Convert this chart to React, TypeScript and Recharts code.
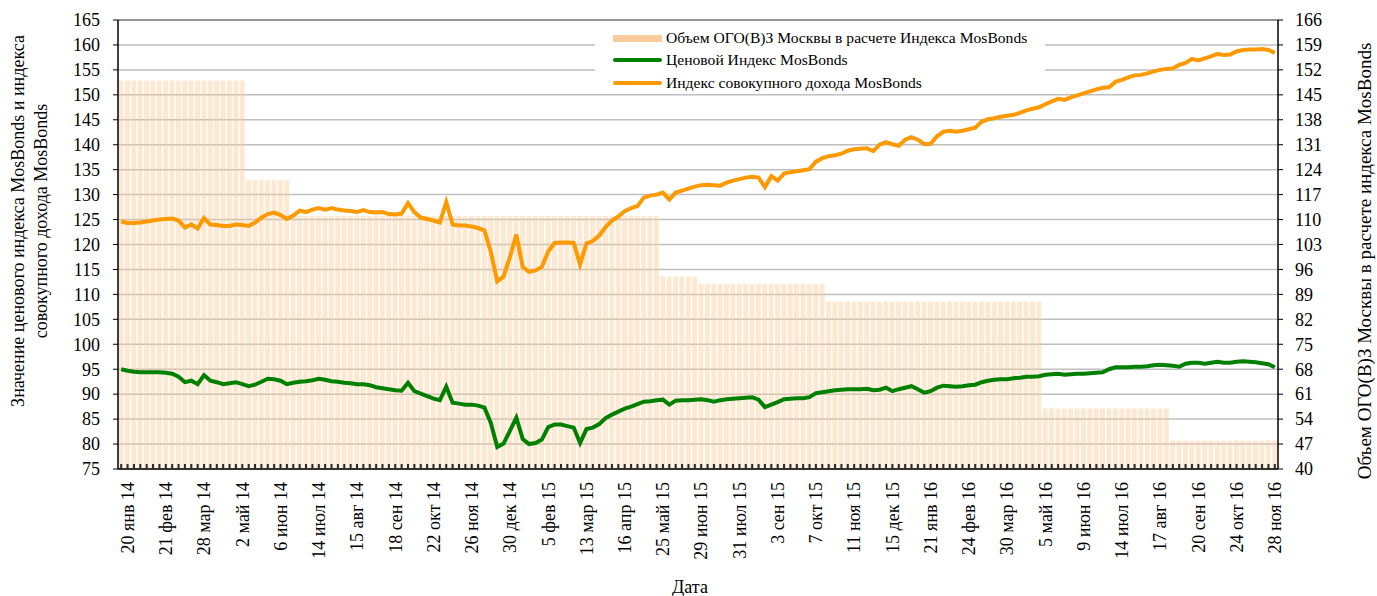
import React from "react";
import {
  ComposedChart,
  Bar,
  Line,
  XAxis,
  YAxis,
  CartesianGrid,
  Legend,
  Label,
  ReferenceLine,
} from "recharts";

// ---- data ----
const TICK_LABELS = [
  "20 янв 14", "21 фев 14", "28 мар 14", "2 май 14", "6 июн 14", "14 июл 14",
  "15 авг 14", "18 сен 14", "22 окт 14", "26 ноя 14", "30 дек 14", "5 фев 15",
  "13 мар 15", "16 апр 15", "25 май 15", "29 июн 15", "31 июл 15", "3 сен 15",
  "7 окт 15", "11 ноя 15", "15 дек 15", "21 янв 16", "24 фев 16", "30 мар 16",
  "5 май 16", "9 июн 16", "14 июл 16", "17 авг 16", "20 сен 16", "24 окт 16",
  "28 ноя 16",
];
// one tick label every STEP observations, first label at observation 1
const STEP = 6;

// Ценовой индекс MosBonds
const PRICE = [
  95.0, 94.7, 94.5, 94.4, 94.4, 94.4, 94.4, 94.3, 94.1, 93.5,
  92.4, 92.7, 92.0, 93.8, 92.7, 92.4, 92.0, 92.2, 92.4, 92.0,
  91.6, 91.9, 92.5, 93.1, 93.0, 92.7, 92.0, 92.3, 92.5, 92.6,
  92.8, 93.1, 92.9, 92.6, 92.5, 92.3, 92.2, 92.0, 92.0, 91.8,
  91.4, 91.2, 91.0, 90.8, 90.7, 92.3, 90.6, 90.1, 89.6, 89.1,
  88.8, 91.5, 88.3, 88.1, 87.9, 87.9, 87.7, 87.3, 84.2, 79.4,
  80.1, 82.7, 85.3, 81.0, 80.0, 80.2, 80.9, 83.4, 83.9, 83.9,
  83.6, 83.3, 80.2, 83.0, 83.3, 84.0, 85.2, 85.9, 86.5, 87.1,
  87.5, 88.0, 88.5, 88.6, 88.8, 88.9, 87.9, 88.7, 88.8, 88.8,
  88.9, 89.0, 88.8, 88.5, 88.8, 89.0, 89.1, 89.2, 89.3, 89.4,
  88.9, 87.4, 87.9, 88.4, 89.0, 89.1, 89.2, 89.2, 89.4, 90.2,
  90.4, 90.6, 90.8, 90.9, 91.0, 91.0, 91.0, 91.1, 90.8, 90.9,
  91.3, 90.6, 91.0, 91.3, 91.6, 91.0, 90.3, 90.6, 91.3, 91.7,
  91.6, 91.5, 91.6, 91.8, 91.9, 92.4, 92.7, 92.9, 93.0, 93.0,
  93.2, 93.3, 93.5, 93.5, 93.6, 93.9, 94.0, 94.1, 93.9, 94.0,
  94.1, 94.1, 94.2, 94.3, 94.4, 95.0, 95.4, 95.4, 95.4, 95.5,
  95.5, 95.6, 95.8, 95.9, 95.8, 95.7, 95.5, 96.1, 96.3, 96.3,
  96.1, 96.3, 96.5, 96.3, 96.3, 96.5, 96.6, 96.5, 96.4, 96.2,
  96.0, 95.4,
];

// Индекс совокупного дохода MosBonds
const TOTAL = [
  124.6, 124.3, 124.3, 124.4, 124.6, 124.8, 125.0, 125.1, 125.2, 124.8,
  123.4, 124.0, 123.2, 125.3, 124.0, 123.9, 123.7, 123.7, 124.0, 123.9,
  123.7, 124.4, 125.4, 126.1, 126.4, 125.9, 125.1, 125.8, 126.8, 126.5,
  127.0, 127.3, 127.0, 127.3, 127.0, 126.8, 126.7, 126.5, 126.9, 126.5,
  126.4, 126.5, 126.1, 126.0, 126.2, 128.3, 126.5, 125.4, 125.1, 124.8,
  124.4, 128.5, 124.0, 123.8, 123.8, 123.6, 123.3, 122.8, 118.5, 112.6,
  113.6, 117.5, 122.0, 115.5, 114.5, 114.8, 115.5, 118.6, 120.3, 120.4,
  120.4, 120.3, 116.0, 120.2, 120.7, 121.8, 123.5, 124.8, 125.6, 126.7,
  127.3, 127.7, 129.4, 129.8, 130.0, 130.4, 129.0, 130.4, 130.8, 131.2,
  131.6, 131.9, 132.0, 131.9, 131.8, 132.4, 132.8, 133.1, 133.4, 133.6,
  133.4, 131.5, 133.7, 132.8, 134.2, 134.5, 134.7, 134.9, 135.1, 136.6,
  137.3, 137.7, 137.9, 138.2, 138.8, 139.1, 139.2, 139.3, 138.7, 140.0,
  140.5, 140.1, 139.8, 141.0, 141.5, 141.0, 140.1, 140.2, 141.7, 142.6,
  142.8, 142.6, 142.8, 143.1, 143.4, 144.6, 145.1, 145.3, 145.6, 145.8,
  146.0, 146.4, 146.9, 147.2, 147.5, 148.1, 148.7, 149.2, 149.0, 149.5,
  149.9, 150.3, 150.7, 151.1, 151.4, 151.5, 152.6, 153.0, 153.5, 153.9,
  154.0, 154.3, 154.7, 155.0, 155.2, 155.3, 156.0, 156.4, 157.2, 156.9,
  157.3, 157.7, 158.2, 158.0, 158.1, 158.7, 159.0, 159.1, 159.1, 159.2,
  159.0, 158.4,
];

// Объем ОГО(В)З Москвы: level and number of observations it lasts
const VOLUME_LEVELS = [149, 121, 111, 94, 92, 87, 57, 48];
const VOLUME_COUNTS = [20, 7, 58, 6, 20, 34, 20, 17];

const LEFT_TICKS = [75, 80, 85, 90, 95, 100, 105, 110, 115, 120, 125, 130, 135, 140, 145, 150, 155, 160, 165];
const RIGHT_TICKS = [40, 47, 54, 61, 68, 75, 82, 89, 96, 103, 110, 117, 124, 131, 138, 145, 152, 159, 166];

const LEFT_TITLE = ["Значение ценового индекса MosBonds и индекса", "совокупного дохода MosBonds"];
const RIGHT_TITLE = "Объем ОГО(В)З Москвы в расчете индекса MosBonds";
const X_TITLE = "Дата";

const SERIES = {
  volume: { name: "Объем ОГО(В)З Москвы в расчете Индекса MosBonds", color: "#FBCB9C" },
  price: { name: "Ценовой Индекс MosBonds", color: "#008000" },
  total: { name: "Индекс совокупного дохода MosBonds", color: "#FF9900" },
};

const VOLUME: number[] = [];
VOLUME_LEVELS.forEach((v, k) => {
  for (let n = 0; n < VOLUME_COUNTS[k]; n++) VOLUME.push(v);
});

const data = PRICE.map((p, i) => ({
  i,
  price: p,
  total: TOTAL[i],
  volume: VOLUME[i],
}));

const FONT = "'Liberation Serif', 'Times New Roman', serif";
const TXT = { fontFamily: FONT };
const X_TICK_MARGIN = 13;
const X_TICK_MARK = 5;

const XTick = (props: any) => {
  const { x, y, payload } = props;
  const idx = Number(payload.value);
  if (idx < 1 || (idx - 1) % STEP !== 0) return <g />;
  const label = TICK_LABELS[(idx - 1) / STEP];
  return (
    <text
      transform={`translate(${x},${y}) rotate(-90)`}
      textAnchor="end"
      dy="0.35em"
      style={TXT}
      fontSize={18}
      fill="#000"
    >
      {label}
    </text>
  );
};

const YTick = (props: any) => {
  const { x, y, payload, anchor } = props;
  return (
    <text x={x} y={y} dy="0.35em" textAnchor={anchor} style={TXT} fontSize={18} fill="#000">
      {payload.value}
    </text>
  );
};

const LeftTitle = () => (
  <text
    transform="translate(24,221) rotate(-90)"
    textAnchor="middle"
    style={TXT}
    fontSize={18}
    fill="#000"
  >
    <tspan x={0} dy="0">{LEFT_TITLE[0]}</tspan>
    <tspan x={0} dy="23">{LEFT_TITLE[1]}</tspan>
  </text>
);

const RightTitle = () => (
  <text
    transform="translate(1371,261) rotate(-90)"
    textAnchor="middle"
    style={TXT}
    fontSize={19}
    fill="#000"
  >
    {RIGHT_TITLE}
  </text>
);

const XTitle = (props: any) => {
  const vb = props.viewBox || { x: 118, y: 469, width: 1160, height: 100 };
  return (
    <text
      x={vb.x + vb.width / 2 - 8}
      y={vb.y + vb.height + 24}
      textAnchor="middle"
      style={TXT}
      fontSize={18}
      fill="#000"
    >
      {X_TITLE}
    </text>
  );
};

const LegendBox = () => {
  const items = [
    { ...SERIES.volume, h: 7 },
    { ...SERIES.price, h: 4 },
    { ...SERIES.total, h: 4 },
  ];
  return (
    <div
      style={{
        background: "#fff",
        width: 450,
        height: 71,
        boxSizing: "border-box",
        padding: "4px 0 0 18px",
        fontFamily: FONT,
        fontSize: 15.6,
        color: "#000",
      }}
    >
      {items.map((it) => (
        <div key={it.name} style={{ display: "flex", alignItems: "center", height: 22.3 }}>
          <div
            style={{
              width: 49,
              height: it.h,
              background: it.color,
              borderRadius: it.h === 4 ? 2 : 0,
              marginRight: 4,
            }}
          />
          <span style={{ whiteSpace: "nowrap" }}>{it.name}</span>
        </div>
      ))}
    </div>
  );
};

export default function App() {
  return (
    <div
      style={{
        position: "absolute",
        left: 0,
        top: 0,
        width: 1377,
        height: 596,
        background: "#fff",
        fontFamily: FONT,
      }}
    >
      <ComposedChart
        width={1377}
        height={596}
        data={data}
        margin={{ top: 20, right: 39, bottom: 27, left: 50 }}
        barCategoryGap={0.5}
      >
        <CartesianGrid yAxisId="left" vertical={false} stroke="#BFBFBF" strokeWidth={1.5} />
        <Bar
          yAxisId="right"
          dataKey="volume"
          name={SERIES.volume.name}
          fill={SERIES.volume.color}
          fillOpacity={0.45}
          isAnimationActive={false}
        />
        <Line
          yAxisId="left"
          type="linear"
          dataKey="price"
          name={SERIES.price.name}
          stroke={SERIES.price.color}
          strokeWidth={4}
          dot={false}
          isAnimationActive={false}
        />
        <Line
          yAxisId="left"
          type="linear"
          dataKey="total"
          name={SERIES.total.name}
          stroke={SERIES.total.color}
          strokeWidth={4}
          dot={false}
          isAnimationActive={false}
        />
        <ReferenceLine yAxisId="left" y={165} stroke="#7f7f7f" strokeWidth={1.5} />
        <XAxis
          dataKey="i"
          type="category"
          interval={0}
          height={100}
          tick={<XTick />}
          tickSize={-X_TICK_MARK}
          tickMargin={X_TICK_MARGIN + X_TICK_MARK}
          tickLine={{ stroke: "#2a2a2a", strokeWidth: 2, strokeOpacity: 1 }}
          axisLine={{ stroke: "#000", strokeWidth: 1.5 }}
        >
          <Label content={<XTitle />} />
        </XAxis>
        <YAxis
          yAxisId="left"
          orientation="left"
          width={68}
          domain={[75, 165]}
          ticks={LEFT_TICKS}
          interval={0}
          allowDataOverflow
          tickSize={5}
          tickMargin={13}
          tick={<YTick anchor="end" />}
          tickLine={{ stroke: "#000" }}
          axisLine={{ stroke: "#000", strokeWidth: 1.5 }}
        >
          <Label content={<LeftTitle />} />
        </YAxis>
        <YAxis
          yAxisId="right"
          orientation="right"
          width={60}
          domain={[40, 166]}
          ticks={RIGHT_TICKS}
          interval={0}
          allowDataOverflow
          tickSize={5}
          tickMargin={12}
          tick={<YTick anchor="start" />}
          tickLine={{ stroke: "#000" }}
          axisLine={{ stroke: "#000", strokeWidth: 1.5 }}
        >
          <Label content={<RightTitle />} />
        </YAxis>
        <Legend
          layout="vertical"
          align="center"
          verticalAlign="middle"
          content={<LegendBox />}
          wrapperStyle={{ left: 595, top: 23, width: 450, height: 71, right: "auto", bottom: "auto" }}
        />
      </ComposedChart>
    </div>
  );
}
